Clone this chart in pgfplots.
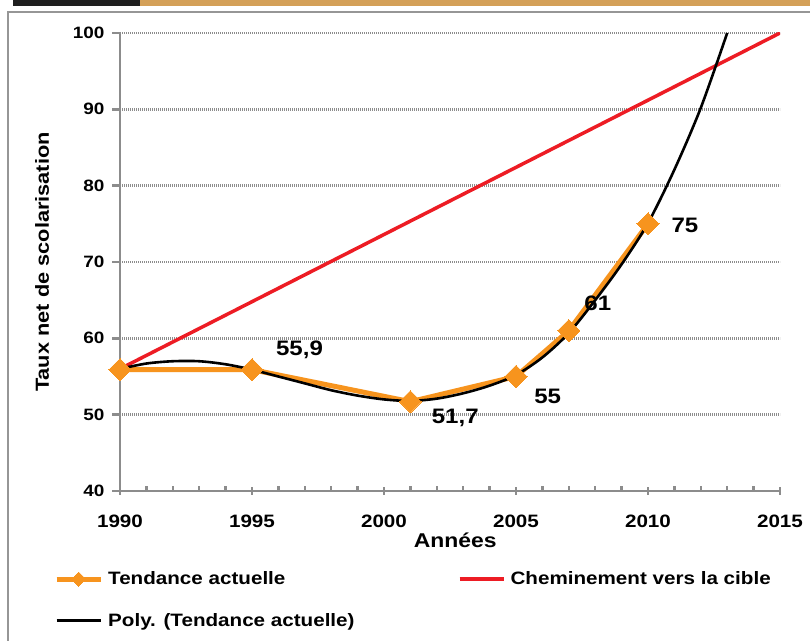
\documentclass[border=0pt]{standalone}
\usepackage{fontspec}
\setmainfont{Liberation Sans}[FakeStretch=1.15]
\usepackage{pgfplots}
\pgfplotsset{compat=1.18}
\definecolor{tendance}{RGB}{247,148,30}
\definecolor{cible}{RGB}{237,28,36}
\definecolor{axegris}{RGB}{140,140,140}
\definecolor{bandeau}{RGB}{212,160,88}
\definecolor{cadre}{RGB}{150,150,150}

\begin{document}
\begin{tikzpicture}
\useasboundingbox (0,0) rectangle (810bp,641bp);
\fill[white] (0,0) rectangle (810bp,641bp);
\fill[black!88] (13bp,635bp) rectangle (140bp,641bp);
\fill[bandeau] (140bp,635bp) rectangle (810bp,641bp);
\draw[cadre, line width=1.5bp] (8bp,-20bp) rectangle (830bp,629bp);

\begin{axis}[
    at={(120bp,150bp)}, anchor=south west,
    scale only axis, width=660bp, height=458bp,
    xmin=1990, xmax=2015, ymin=40, ymax=100,
    xtick={1990,1995,2000,2005,2010,2015},
    minor x tick num=4,
    ytick={40,50,60,70,80,90,100},
    axis x line*=bottom, axis y line*=left,
    axis line style={-, axegris, line width=2.5bp},
    tick style={axegris, line width=2.5bp},
    tick align=outside,
    major tick length=8bp,
    minor tick length=5bp,
    major x tick style={yshift=4bp},
    minor x tick style={yshift=5bp},
    ymajorgrids,
    major grid style={axegris, line width=2.5bp, dash pattern=on 1.2bp off 0.8bp},
    /pgf/number format/1000 sep={},
    /pgf/number format/assume math mode=true,
    x tick label style={font=\bfseries\fontsize{18}{21}\selectfont, yshift=-12bp},
    y tick label style={font=\bfseries\fontsize{16.5}{19}\selectfont, xshift=-4bp},
    xlabel={Années},
    ylabel={Taux net de scolarisation},
    every axis x label/.style={at={(axis description cs:0.508,-0.107)}, anchor=center, font=\bfseries\fontsize{20}{23}\selectfont},
    every axis y label/.style={at={(axis description cs:-0.118,0.5)}, rotate=90, anchor=center, font=\bfseries\fontsize{19}{22}\selectfont},
    legend columns=2,
    legend cell align=left,
    legend style={draw=none, fill=none, at={(axis description cs:-0.1,-0.172)}, anchor=north west,
        font=\bfseries\fontsize{18}{21}\selectfont, inner sep=0pt,
        row sep=23bp,
        /tikz/every odd column/.append style={column sep=3bp},
        /tikz/every even column/.append style={column sep=101bp}},
    legend image code/.code={\draw[#1, mark repeat=2, mark phase=2] plot coordinates {(0bp,0bp) (22bp,0bp) (44bp,0bp)};},
]
\addplot[tendance, line width=5bp, mark=square*, mark size=7.8bp,
    mark options={solid, rotate=45, fill=tendance, draw=tendance, line width=0pt}, forget plot]
    coordinates {(1990,55.9) (1995,55.9) (2001,51.7) (2005,55) (2007,61) (2010,75)};
\addplot[cible, line width=3.5bp, forget plot] coordinates {(1990,56) (2015,100)};
\addplot[black, line width=2.6bp, smooth, forget plot] coordinates {
    (1990,56.0) (1991,56.7) (1992,57.0) (1993,57.0) (1994,56.6) (1995,55.9)
    (1996,55.0) (1997,54.1) (1998,53.2) (1999,52.5) (2000,52.0) (2001,51.8)
    (2002,52.1) (2003,52.8) (2004,53.8) (2005,55.2) (2006,57.5) (2007,60.7)
    (2008,65.0) (2009,69.7) (2010,75.1) (2011,82.1) (2012,90.2) (2013,100.0)};

\addlegendimage{tendance, line width=5bp, mark=square*, mark size=5bp,
    mark options={solid, rotate=45, fill=tendance, draw=tendance, line width=0pt}}
\addlegendentry{Tendance actuelle}
\addlegendimage{cible, line width=4bp}
\addlegendentry{Cheminement vers la cible}
\addlegendimage{black, line width=3bp}
\addlegendentry{Poly. (Tendance actuelle)}

\node[font=\bfseries\fontsize{21}{24}\selectfont] at (axis cs:1996.8,58.5) {55,9};
\node[font=\bfseries\fontsize{21}{24}\selectfont] at (axis cs:2002.7,49.6) {51,7};
\node[font=\bfseries\fontsize{21}{24}\selectfont] at (axis cs:2006.2,52.4) {55};
\node[font=\bfseries\fontsize{21}{24}\selectfont] at (axis cs:2008.1,64.6) {61};
\node[font=\bfseries\fontsize{21}{24}\selectfont] at (axis cs:2011.4,74.8) {75};
\end{axis}
\end{tikzpicture}
\end{document}
